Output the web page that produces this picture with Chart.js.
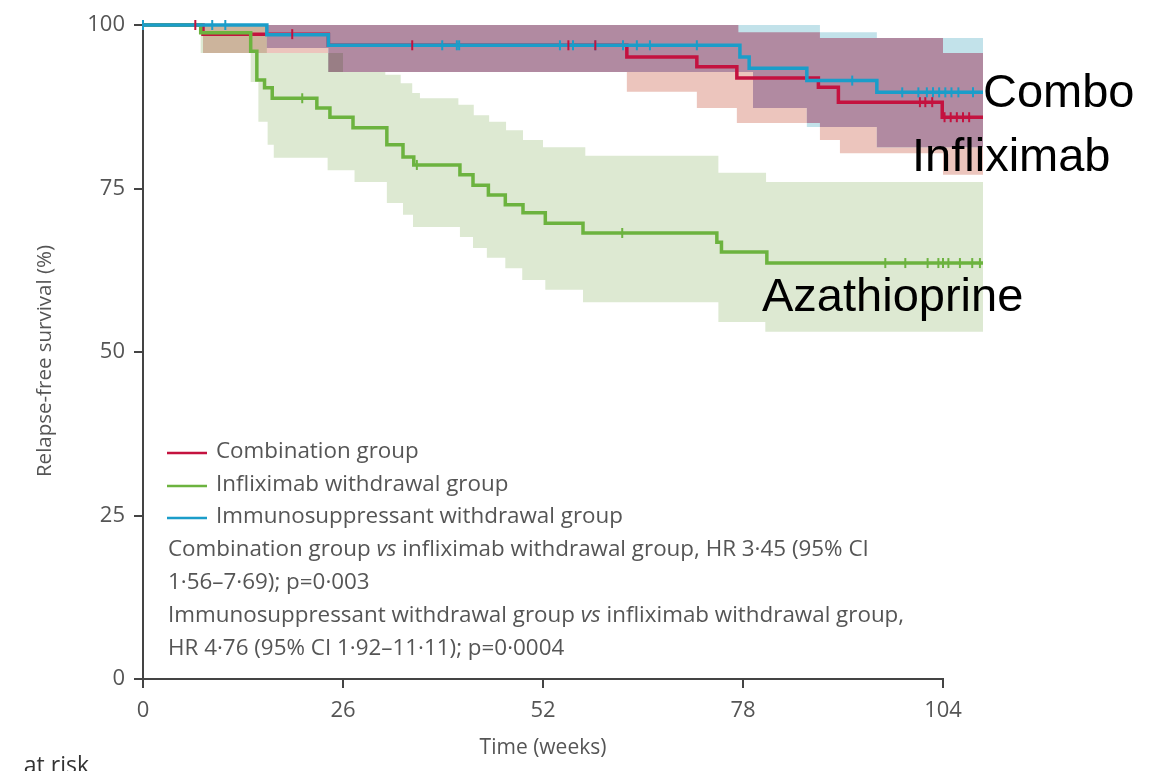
<!DOCTYPE html>
<html>
<head>
<meta charset="utf-8">
<script src="https://cdn.jsdelivr.net/npm/chart.js@4.4.1/dist/chart.umd.min.js"></script>
<style>
  html, body { margin: 0; padding: 0; background: #fff; }
  #wrap { width: 1153px; height: 771px; position: relative; }
</style>
</head>
<body>
<div id="wrap"><canvas id="chart"></canvas></div>
<script>
// axis ticks
const xTicks = [0, 26, 52, 78, 104];
const yTicks = [0, 25, 50, 75, 100];
const END_WEEK = 109.2;

// Combination group (red)
const comboWeeks = [0, 7.8, 24.1, 62.9, 72.0, 77.2, 87.8, 90.4, 103.9, 109.2];
const comboSurv = [100, 98.6, 96.9, 95.1, 93.6, 91.9, 90.5, 88.2, 85.9, 85.9];
const comboCensor = [6.8, 19.4, 35.0, 55.3, 58.8, 101.0, 101.7, 102.6, 104.2, 105.0, 105.8, 106.6, 107.4];
const comboUpperWeeks = [0, 77.4, 88.0, 104.0, 109.2];
const comboUpper = [100, 98.9, 98.0, 95.7, 95.7];
const comboLowerWeeks = [0, 7.8, 24.1, 62.9, 72.0, 77.2, 88.0, 90.6, 104.0, 109.2];
const comboLower = [100, 95.7, 92.8, 89.8, 87.3, 85.0, 82.4, 80.4, 77.1, 77.1];

// Infliximab withdrawal group (green)
const inflixWeeks = [0, 7.5, 14.0, 14.8, 15.8, 16.8, 22.6, 24.3, 27.3, 31.7, 33.8, 35.2, 41.2, 42.9, 44.9, 47.1, 49.4, 52.3, 57.2, 74.6, 75.2, 81.1, 109.2];
const inflixSurv = [100, 98.8, 96.0, 91.6, 90.4, 88.8, 87.3, 85.9, 84.3, 81.7, 79.8, 78.6, 77.1, 75.5, 74.0, 72.5, 71.3, 69.7, 68.2, 66.8, 65.3, 63.6, 63.6];
const inflixCensor = [20.7, 35.6, 62.3, 96.5, 99.1, 102.0, 103.4, 104.0, 104.7, 106.2, 107.8, 108.8];
const inflixUpperWeeks = [0, 16.1, 26.0, 31.5, 33.5, 35.0, 36.0, 41.0, 43.0, 45.0, 47.2, 49.4, 52.0, 57.5, 74.8, 81.0, 109.2];
const inflixUpper = [100, 95.7, 92.8, 92.4, 91.1, 89.6, 88.8, 87.8, 86.2, 85.2, 83.9, 82.4, 81.3, 80.0, 77.4, 76.0, 76.0];
const inflixLowerWeeks = [0, 7.5, 14.0, 15.0, 16.2, 17.0, 24.0, 27.5, 31.7, 33.8, 35.1, 41.2, 42.9, 44.7, 47.1, 49.3, 52.3, 57.2, 74.8, 80.9, 109.2];
const inflixLower = [100, 95.7, 91.3, 85.2, 81.7, 79.7, 77.8, 76.0, 72.8, 71.0, 69.1, 67.6, 65.9, 64.4, 62.8, 61.0, 59.5, 57.6, 54.6, 53.1, 53.1];

// Immunosuppressant withdrawal group (blue)
const immunoWeeks = [0, 16.1, 24.1, 77.6, 78.8, 86.3, 95.4, 109.2];
const immunoSurv = [100, 98.5, 96.9, 95.1, 93.4, 91.5, 89.7, 89.7];
const immunoCensor = [0, 9.0, 10.7, 38.9, 40.8, 41.1, 54.2, 55.9, 58.8, 62.4, 64.2, 65.9, 72.0, 92.2, 98.7, 100.8, 101.9, 102.7, 103.5, 104.3, 105.1, 106.0, 107.9];
const immunoUpperWeeks = [0, 88.0, 95.4, 109.2];
const immunoUpper = [100, 98.9, 98.0, 98.0];
const immunoLowerWeeks = [0, 16.1, 24.1, 79.3, 86.3, 95.4, 109.2];
const immunoLower = [100, 96.5, 92.8, 87.3, 84.4, 81.3, 81.3];

const RED = "#c4123f";
const GREEN = "#6cb33f";
const BLUE = "#1b9dc9";
const FONT = "'Open Sans', 'Noto Sans', sans-serif";

function stepAt(weeks, vals, t) {
  let v = vals[0];
  for (let i = 0; i < weeks.length; i++) if (weeks[i] <= t) v = vals[i];
  return v;
}
function pts(weeks, vals) {
  return weeks.map((w, i) => ({ x: w, y: vals[i] }));
}
function censorPts(times, weeks, vals) {
  return times.map(t => ({ x: t, y: stepAt(weeks, vals, t) }));
}

// where the red and blue bands overlap (drawn purple)
const ovWeeks = [...new Set([...comboUpperWeeks, ...comboLowerWeeks, ...immunoUpperWeeks, ...immunoLowerWeeks])].sort((a, b) => a - b);
const ovUpper = ovWeeks.map(t => Math.min(stepAt(comboUpperWeeks, comboUpper, t), stepAt(immunoUpperWeeks, immunoUpper, t)));
const ovLower = ovWeeks.map((t, i) => Math.min(ovUpper[i], Math.max(stepAt(comboLowerWeeks, comboLower, t), stepAt(immunoLowerWeeks, immunoLower, t))));

function band(weeks, vals, order, fill, color) {
  return {
    data: pts(weeks, vals), stepped: "before", order: order,
    borderWidth: 0, pointRadius: 0, fill: fill, backgroundColor: color
  };
}
function curve(weeks, vals, color, order) {
  return {
    data: pts(weeks, vals), stepped: "before", order: order, clip: 8,
    borderColor: color, borderWidth: 3.5, pointRadius: 0, fill: false
  };
}
function censor(data, color) {
  return {
    data: data, showLine: false, order: 0, clip: 8,
    pointStyle: "line", rotation: 90, pointRadius: 5,
    pointBorderColor: color, pointBorderWidth: 2, pointBackgroundColor: color
  };
}

// green band multiplies over the others
const blendPlugin = {
  id: "blend",
  afterDatasetDraw(chart, args) {
    if (args.index === 4) chart.ctx.globalCompositeOperation = "multiply";
    if (args.index === 6) chart.ctx.globalCompositeOperation = "source-over";
  }
};

// x axis line only up to week 104
const axisPlugin = {
  id: "axisLine",
  beforeDatasetsDraw(chart) {
    const { ctx, scales: { x, y } } = chart;
    ctx.save();
    ctx.strokeStyle = "#444";
    ctx.lineWidth = 2;
    ctx.beginPath();
    ctx.moveTo(x.getPixelForValue(0) - 1, y.getPixelForValue(0));
    ctx.lineTo(x.getPixelForValue(104) + 1, y.getPixelForValue(0));
    ctx.stroke();
    ctx.restore();
  }
};

function drawRuns(ctx, runs, x, y, size) {
  runs.forEach(([txt, it]) => {
    ctx.font = (it ? "italic " : "") + size + "px " + FONT;
    ctx.fillText(txt, x, y);
    x += ctx.measureText(txt).width;
  });
}

const textPlugin = {
  id: "texts",
  afterDraw(chart) {
    const ctx = chart.ctx;
    const { x } = chart.scales;
    ctx.save();

    // axis titles
    ctx.fillStyle = "#555";
    ctx.textAlign = "center";
    ctx.textBaseline = "middle";
    ctx.font = "21px " + FONT;
    ctx.fillText("Time (weeks)", x.getPixelForValue(52), 748);
    ctx.save();
    ctx.translate(45, 361);
    ctx.rotate(-Math.PI / 2);
    ctx.font = "20.5px " + FONT;
    ctx.fillText("Relapse-free survival (%)", 0, 0);
    ctx.restore();

    // legend
    const items = [["Combination group", RED, 452], ["Infliximab withdrawal group", GREEN, 485], ["Immunosuppressant withdrawal group", BLUE, 517]];
    ctx.textAlign = "left";
    items.forEach(([label, color, y]) => {
      ctx.strokeStyle = color;
      ctx.lineWidth = 2.5;
      ctx.beginPath();
      ctx.moveTo(167, y + 1);
      ctx.lineTo(207, y + 1);
      ctx.stroke();
      ctx.fillStyle = "#555";
      ctx.font = "22.4px " + FONT;
      ctx.fillText(label, 216, y);
    });
    ctx.fillStyle = "#555";
    drawRuns(ctx, [["Combination group ", false], ["vs", true], [" infliximab withdrawal group, HR 3·45 (95% CI", false]], 168, 550, 22.4);
    drawRuns(ctx, [["1·56–7·69); p=0·003", false]], 168, 583, 22.4);
    drawRuns(ctx, [["Immunosuppressant withdrawal group ", false], ["vs", true], [" infliximab withdrawal group,", false]], 168, 616, 22.4);
    drawRuns(ctx, [["HR 4·76 (95% CI 1·92–11·11); p=0·0004", false]], 168, 649, 22.4);

    // big labels
    ctx.fillStyle = "#000";
    ctx.textBaseline = "alphabetic";
    ctx.font = "47px 'Liberation Sans', Arial, sans-serif";
    ctx.fillText("Combo", 983, 107);
    ctx.fillText("Infliximab", 912, 171);
    ctx.fillText("Azathioprine", 762, 311);

    // cut-off row label
    ctx.fillStyle = "#333";
    ctx.textAlign = "right";
    ctx.font = "23px " + FONT;
    ctx.fillText("at risk", 89, 773);
    ctx.restore();
  }
};

const canvas = document.getElementById("chart");
const ctx = canvas.getContext("2d");

new Chart(ctx, {
  type: "line",
  data: {
    datasets: [
      band(comboLowerWeeks, comboLower, 10, false, "transparent"),
      band(comboUpperWeeks, comboUpper, 10, "-1", "#ecc5bd"),
      band(immunoLowerWeeks, immunoLower, 9, false, "transparent"),
      band(immunoUpperWeeks, immunoUpper, 9, "-1", "#c2e2ea"),
      band(ovWeeks, ovLower, 8, false, "transparent"),
      band(ovWeeks, ovUpper, 8, "-1", "#b18aa1"),
      band(inflixLowerWeeks, inflixLower, 7, false, "transparent"),
      band(inflixUpperWeeks, inflixUpper, 7, "-1", "#dde9d2"),
      curve(comboWeeks, comboSurv, RED, 3),
      curve(inflixWeeks, inflixSurv, GREEN, 2),
      curve(immunoWeeks, immunoSurv, BLUE, 1),
      censor(censorPts(comboCensor, comboWeeks, comboSurv), RED),
      censor(censorPts(inflixCensor, inflixWeeks, inflixSurv), GREEN),
      censor(censorPts(immunoCensor, immunoWeeks, immunoSurv), BLUE)
    ]
  },
  options: {
    responsive: true,
    maintainAspectRatio: false,
    animation: false,
    layout: { padding: { top: 25, right: 170, bottom: 0, left: 0 } },
    plugins: {
      legend: { display: false },
      tooltip: { enabled: false },
      filler: { propagate: false }
    },
    scales: {
      x: {
        type: "linear", min: 0, max: END_WEEK,
        afterBuildTicks: s => { s.ticks = xTicks.map(v => ({ value: v })); },
        afterFit: s => { s.height = 92; },
        grid: { drawOnChartArea: false, drawTicks: true, tickLength: 9, color: "#444", lineWidth: 2 },
        border: { display: false },
        ticks: { color: "#555", font: { family: FONT, size: 22 }, padding: 10, maxRotation: 0 }
      },
      y: {
        min: 0, max: 100,
        afterBuildTicks: s => { s.ticks = yTicks.map(v => ({ value: v })); },
        afterFit: s => { s.width = 143; },
        grid: { drawOnChartArea: false, drawTicks: true, tickLength: 9, color: "#444", lineWidth: 2 },
        border: { display: true, color: "#444", width: 2 },
        ticks: { color: "#555", font: { family: FONT, size: 22 }, padding: 9 }
      }
    }
  },
  plugins: [blendPlugin, axisPlugin, textPlugin]
});
</script>
</body>
</html>
